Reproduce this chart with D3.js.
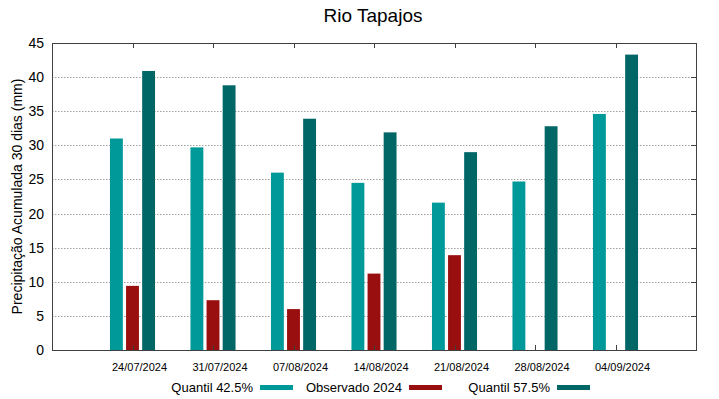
<!DOCTYPE html>
<html>
<head>
<meta charset="utf-8">
<script src="https://cdn.jsdelivr.net/npm/d3@7"></script>
<style>
  body { margin: 0; background: #fff; }
  text { font-family: "Liberation Sans", Arial, sans-serif; }
</style>
</head>
<body>
<div id="chart"></div>
<script>
// dates on the x axis
const dates = ['24/07/2024', '31/07/2024', '07/08/2024', '14/08/2024', '21/08/2024', '28/08/2024', '04/09/2024'];
// series values (mm)
const q425 = [31.0, 29.7, 26.0, 24.5, 21.6, 24.7, 34.6];
const obs2024 = [9.4, 7.3, 6.0, 11.2, 13.9, null, null];
const q575 = [40.9, 38.8, 33.9, 31.9, 29.0, 32.8, 43.3];
const yTicks = [0, 5, 10, 15, 20, 25, 30, 35, 40, 45];

const series = [
  { name: 'Quantil 42.5%', values: q425, color: '#009999', offset: -0.2 },
  { name: 'Observado 2024', values: obs2024, color: '#990f0f', offset: 0 },
  { name: 'Quantil 57.5%', values: q575, color: '#006666', offset: 0.2 }
];

const width = 719, height = 399;
const margin = { top: 43, right: 23, bottom: 49, left: 52 };
const innerW = width - margin.left - margin.right;
const innerH = height - margin.top - margin.bottom;

const svg = d3.select('#chart').append('svg')
  .attr('width', width)
  .attr('height', height);

const x = d3.scaleLinear().domain([0, dates.length + 1]).range([margin.left, margin.left + innerW]);
const y = d3.scaleLinear().domain([0, 45]).range([margin.top + innerH, margin.top]);
const barW = 0.16;

// grid
svg.append('g')
  .selectAll('line')
  .data(yTicks.slice(1, -1))
  .enter().append('line')
  .attr('x1', margin.left).attr('x2', margin.left + innerW)
  .attr('y1', d => Math.round(y(d)) + 0.5).attr('y2', d => Math.round(y(d)) + 0.5)
  .attr('stroke', '#a0a0a0')
  .attr('stroke-dasharray', '1.5,1.5');

// bars
series.forEach(s => {
  svg.append('g')
    .selectAll('rect')
    .data(s.values.map((v, i) => ({ v, i })).filter(d => d.v != null))
    .enter().append('rect')
    .attr('x', d => x(d.i + 1 + s.offset - barW / 2))
    .attr('width', d => x(barW) - x(0))
    .attr('y', d => y(d.v))
    .attr('height', d => y(0) - y(d.v))
    .attr('fill', s.color);
});

// y axis labels
svg.append('g')
  .selectAll('text')
  .data(yTicks)
  .enter().append('text')
  .attr('x', margin.left - 8)
  .attr('y', d => y(d) + 5)
  .attr('text-anchor', 'end')
  .attr('font-size', 14)
  .attr('fill', '#000')
  .text(d => d);

// y ticks on the right
const tickLen = 5;
svg.append('g')
  .selectAll('line')
  .data(yTicks)
  .enter().append('line')
  .attr('x1', margin.left + innerW - tickLen).attr('x2', margin.left + innerW)
  .attr('y1', d => Math.round(y(d)) + 0.5).attr('y2', d => Math.round(y(d)) + 0.5)
  .attr('stroke', '#404040');

// x ticks top/bottom
const xt = svg.append('g');
dates.forEach((d, i) => {
  const px = Math.round(x(i + 1)) + 0.5;
  xt.append('line').attr('x1', px).attr('x2', px)
    .attr('y1', margin.top).attr('y2', margin.top + tickLen).attr('stroke', '#404040');
  xt.append('line').attr('x1', px).attr('x2', px)
    .attr('y1', margin.top + innerH - tickLen).attr('y2', margin.top + innerH).attr('stroke', '#404040');
});

// x labels
svg.append('g')
  .selectAll('text')
  .data(dates)
  .enter().append('text')
  .attr('x', (d, i) => x(i + 1) + 7)
  .attr('y', margin.top + innerH + 21)
  .attr('text-anchor', 'middle')
  .attr('font-size', 11)
  .attr('fill', '#000')
  .text(d => d);

// border
svg.append('rect')
  .attr('x', margin.left + 0.5).attr('y', margin.top + 0.5)
  .attr('width', innerW).attr('height', innerH)
  .attr('fill', 'none')
  .attr('stroke', '#404040');

// title
svg.append('text')
  .attr('x', 373).attr('y', 22)
  .attr('text-anchor', 'middle')
  .attr('font-size', 19)
  .text('Rio Tapajos');

// y axis title
svg.append('text')
  .attr('transform', `translate(22,${margin.top + innerH / 2}) rotate(-90)`)
  .attr('text-anchor', 'middle')
  .attr('font-size', 14)
  .text('Precipitação Acumulada 30 dias (mm)');

// legend
const legendX = [253, 402, 550];
series.forEach((s, i) => {
  svg.append('text')
    .attr('x', legendX[i]).attr('y', 392)
    .attr('text-anchor', 'end')
    .attr('font-size', 13)
    .text(s.name);
  svg.append('rect')
    .attr('x', legendX[i] + 7).attr('y', 385)
    .attr('width', 33).attr('height', 5)
    .attr('fill', s.color);
});
</script>
</body>
</html>
